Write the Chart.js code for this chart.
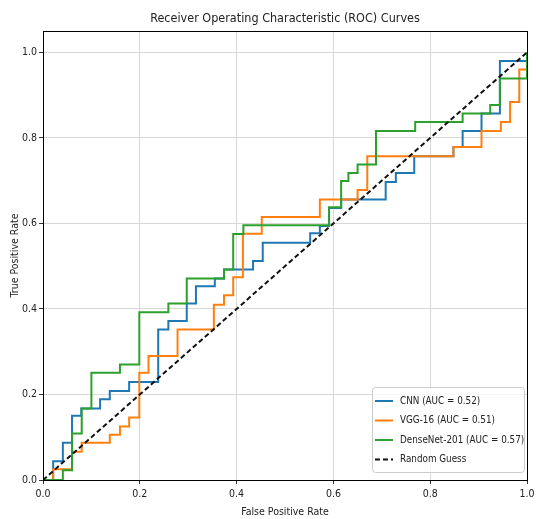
<!DOCTYPE html>
<html>
<head>
<meta charset="utf-8">
<script src="https://cdn.jsdelivr.net/npm/chart.js@4.4.0/dist/chart.umd.min.js"></script>
<style>
  html, body { margin: 0; padding: 0; background: #fff; }
  canvas { display: block; }
</style>
</head>
<body>
<canvas id="rocChart" width="536" height="519"></canvas>
<script>
// tick labels
const xTicks = [0, 0.2, 0.4, 0.6, 0.8, 1.0];
const yTicks = [0, 0.2, 0.4, 0.6, 0.8, 1.0];

// ROC corners (fpr / tpr)
const cnnFpr = [0, 0.021, 0.021, 0.041, 0.041, 0.06, 0.06, 0.079, 0.079, 0.118, 0.118, 0.138, 0.138, 0.178, 0.178, 0.238, 0.238, 0.259, 0.259, 0.297, 0.297, 0.316, 0.316, 0.355, 0.355, 0.374, 0.374, 0.434, 0.434, 0.454, 0.454, 0.552, 0.552, 0.572, 0.572, 0.591, 0.591, 0.616, 0.616, 0.708, 0.708, 0.729, 0.729, 0.767, 0.767, 0.848, 0.848, 0.867, 0.867, 0.906, 0.906, 0.944, 0.944, 1, 1];
const cnnTpr = [0, 0, 0.044, 0.044, 0.087, 0.087, 0.15, 0.15, 0.167, 0.167, 0.189, 0.189, 0.208, 0.208, 0.229, 0.229, 0.352, 0.352, 0.372, 0.372, 0.413, 0.413, 0.453, 0.453, 0.471, 0.471, 0.492, 0.492, 0.512, 0.512, 0.555, 0.555, 0.577, 0.577, 0.594, 0.594, 0.636, 0.636, 0.656, 0.656, 0.697, 0.697, 0.718, 0.718, 0.757, 0.757, 0.779, 0.779, 0.816, 0.816, 0.857, 0.857, 0.98, 0.98, 1];

const vggFpr = [0, 0.021, 0.021, 0.06, 0.06, 0.08, 0.08, 0.138, 0.138, 0.159, 0.159, 0.178, 0.178, 0.199, 0.199, 0.218, 0.218, 0.278, 0.278, 0.353, 0.353, 0.374, 0.374, 0.393, 0.393, 0.413, 0.413, 0.452, 0.452, 0.572, 0.572, 0.65, 0.65, 0.67, 0.67, 0.848, 0.848, 0.906, 0.906, 0.946, 0.946, 0.965, 0.965, 0.984, 0.984, 1, 1];
const vggTpr = [0, 0, 0.025, 0.025, 0.066, 0.066, 0.087, 0.087, 0.106, 0.106, 0.125, 0.125, 0.146, 0.146, 0.251, 0.251, 0.29, 0.29, 0.352, 0.352, 0.41, 0.41, 0.432, 0.432, 0.474, 0.474, 0.576, 0.576, 0.615, 0.615, 0.656, 0.656, 0.678, 0.678, 0.757, 0.757, 0.779, 0.779, 0.816, 0.816, 0.837, 0.837, 0.884, 0.884, 0.96, 0.96, 1];

const denseFpr = [0, 0.041, 0.041, 0.06, 0.06, 0.08, 0.08, 0.1, 0.1, 0.159, 0.159, 0.199, 0.199, 0.259, 0.259, 0.297, 0.297, 0.374, 0.374, 0.393, 0.393, 0.414, 0.414, 0.591, 0.591, 0.616, 0.616, 0.631, 0.631, 0.65, 0.65, 0.688, 0.688, 0.769, 0.769, 0.867, 0.867, 0.924, 0.924, 0.944, 0.944, 1, 1];
const denseTpr = [0, 0, 0.023, 0.023, 0.109, 0.109, 0.167, 0.167, 0.251, 0.251, 0.27, 0.27, 0.392, 0.392, 0.413, 0.413, 0.471, 0.471, 0.492, 0.492, 0.575, 0.575, 0.596, 0.596, 0.638, 0.638, 0.699, 0.699, 0.718, 0.718, 0.738, 0.738, 0.816, 0.816, 0.837, 0.837, 0.857, 0.857, 0.877, 0.877, 0.939, 0.939, 1];

const guessFpr = [0, 1];
const guessTpr = [0, 1];

const labels = ["CNN (AUC = 0.52)", "VGG-16 (AUC = 0.51)", "DenseNet-201 (AUC = 0.57)", "Random Guess"];

const FONT = "'DejaVu Sans Condensed', 'DejaVu Sans', sans-serif";

function toPoints(xs, ys) {
  return xs.map((x, i) => ({ x: x, y: ys[i] }));
}

//frame on all four sides, like matplotlib spines
const framePlugin = {
  id: "frame",
  afterDatasetsDraw(chart) {
    const a = chart.chartArea;
    const ctx = chart.ctx;
    ctx.save();
    ctx.strokeStyle = "#000";
    ctx.lineWidth = 1;
    ctx.strokeRect(Math.round(a.left) + 0.5, Math.round(a.top) + 0.5, Math.round(a.right - a.left), Math.round(a.bottom - a.top));
    ctx.restore();
  }
};

//legend box in lower right corner
const legendPlugin = {
  id: "boxLegend",
  afterDraw(chart) {
    const ctx = chart.ctx;
    const a = chart.chartArea;
    const w = 152, h = 85;
    const x0 = a.right - w - 3, y0 = a.bottom - h - 8;
    ctx.save();
    ctx.beginPath();
    ctx.roundRect(x0 + 0.5, y0 + 0.5, w, h, 3);
    ctx.fillStyle = "rgba(255,255,255,0.8)";
    ctx.fill();
    ctx.strokeStyle = "#cccccc";
    ctx.lineWidth = 1;
    ctx.stroke();
    ctx.font = "9.8px " + FONT;
    ctx.textBaseline = "middle";
    chart.data.datasets.forEach((ds, i) => {
      const y = y0 + 14 + i * 19.5;
      ctx.beginPath();
      ctx.setLineDash(ds.borderDash || []);
      ctx.strokeStyle = ds.borderColor;
      ctx.lineWidth = 2;
      ctx.moveTo(x0 + 3, y);
      ctx.lineTo(x0 + 21, y);
      ctx.stroke();
      ctx.setLineDash([]);
      ctx.fillStyle = "#222";
      ctx.fillText(ds.label, x0 + 28, y);
    });
    ctx.restore();
  }
};

const datasets = [
  { label: labels[0], data: toPoints(cnnFpr, cnnTpr), borderColor: "#1f77b4", order: 3 },
  { label: labels[1], data: toPoints(vggFpr, vggTpr), borderColor: "#ff7f0e", order: 2 },
  { label: labels[2], data: toPoints(denseFpr, denseTpr), borderColor: "#2ca02c", order: 1 },
  { label: labels[3], data: toPoints(guessFpr, guessTpr), borderColor: "#111111", borderDash: [5, 3], order: 0 }
];
datasets.forEach((d) => {
  d.showLine = true;
  d.borderWidth = 2;
  d.pointRadius = 0;
  d.fill = false;
  d.tension = 0;
});

new Chart(document.getElementById("rocChart"), {
  type: "scatter",
  data: { datasets: datasets },
  plugins: [framePlugin, legendPlugin],
  options: {
    responsive: false,
    animation: false,
    layout: { padding: { left: 0, right: 9, top: 0, bottom: 0 } },
    plugins: {
      legend: { display: false },
      tooltip: { enabled: false },
      title: {
        display: true,
        fullSize: false,
        text: "Receiver Operating Characteristic (ROC) Curves",
        color: "#222",
        font: { family: FONT, size: 12.5, weight: "normal" },
        padding: { top: 11, bottom: 5 }
      }
    },
    scales: {
      x: {
        type: "linear",
        min: 0,
        max: 1,
        afterBuildTicks: (s) => { s.ticks = xTicks.map((v) => ({ value: v })); },
        afterFit: (s) => { s.height = 39; s.paddingLeft = 0; s.paddingRight = 0; },
        ticks: {
          color: "#222",
          font: { family: FONT, size: 10.5 },
          padding: 4,
          maxRotation: 0,
          callback: (v) => Number(v).toFixed(1)
        },
        grid: { color: "#d8d8d8", lineWidth: 1, tickLength: 4, tickColor: "#333" },
        border: { display: true, color: "#000", width: 1 },
        title: {
          display: true,
          text: "False Positive Rate",
          color: "#222",
          font: { family: FONT, size: 10.5 },
          padding: { top: 0, bottom: 0 }
        }
      },
      y: {
        type: "linear",
        min: 0,
        max: 1.05,
        afterBuildTicks: (s) => { s.ticks = yTicks.map((v) => ({ value: v })); },
        afterFit: (s) => { s.width = 43; },
        ticks: {
          color: "#222",
          font: { family: FONT, size: 10.5 },
          padding: 2,
          callback: (v) => Number(v).toFixed(1)
        },
        grid: { color: "#d8d8d8", lineWidth: 1, tickLength: 4, tickColor: "#333" },
        border: { display: true, color: "#000", width: 1 },
        title: {
          display: true,
          text: "True Positive Rate",
          color: "#222",
          font: { family: FONT, size: 10.5 },
          padding: { top: 9, bottom: 0 }
        }
      }
    }
  }
});
</script>
</body>
</html>
